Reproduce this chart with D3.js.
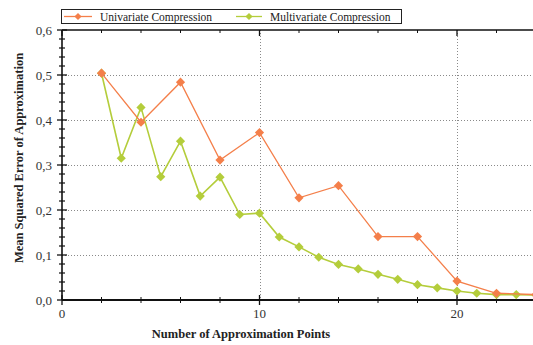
<!DOCTYPE html>
<html>
<head>
<meta charset="utf-8">
<script src="https://cdn.jsdelivr.net/npm/d3@7"></script>
<style>
  html, body { margin: 0; padding: 0; background: #fff; }
  svg { display: block; }
</style>
</head>
<body>
<svg id="chart" width="533" height="345"></svg>
<script>
// Approximation points (x) and mean squared error per method
const uniX = [2, 4, 6, 8, 10, 12, 14, 16, 18, 20, 22, 24];
const uniY = [0.504, 0.395, 0.484, 0.311, 0.372, 0.227, 0.254, 0.141, 0.141, 0.042, 0.015, 0.012];
const multiX = [2, 3, 4, 5, 6, 7, 8, 9, 10, 11, 12, 13, 14, 15, 16, 17, 18, 19, 20, 21, 22, 23, 24];
const multiY = [0.504, 0.315, 0.428, 0.274, 0.353, 0.231, 0.273, 0.190, 0.193, 0.140, 0.118, 0.095,
                0.079, 0.069, 0.057, 0.046, 0.034, 0.027, 0.020, 0.015, 0.012, 0.012, 0.011];
const xMajorTicks = [0, 10, 20];
const xMinorTicks = [2, 4, 6, 8, 12, 14, 16, 18, 22, 24];
const yMajorTicks = [0, 0.1, 0.2, 0.3, 0.4, 0.5, 0.6];
const seriesNames = ["Univariate Compression", "Multivariate Compression"];
const seriesColors = ["#f47f4a", "#b4cd3b"];

const FONT = "'Liberation Serif', 'Times New Roman', Times, serif";

const svg = d3.select("#chart");
const W = 533, H = 345;
const mLeft = 62, mRight = 536, mTop = 30, mBottom = 300;

const x = d3.scaleLinear().domain([0, 24]).range([mLeft, mRight]);
const y = d3.scaleLinear().domain([0, 0.6]).range([mBottom, mTop]);

svg.append("rect").attr("width", W).attr("height", H).attr("fill", "#fff");

const yMinor = d3.range(0, 0.6001, 0.02).filter(v => !yMajorTicks.some(m => Math.abs(m - v) < 1e-6));

// dotted grid at major ticks
const grid = svg.append("g").attr("stroke", "#8a8a8a").attr("stroke-width", 1)
  .attr("stroke-dasharray", "1,2");
grid.selectAll("line.h").data(yMajorTicks.filter(v => v > 0 && v < 0.6)).join("line")
  .attr("x1", mLeft).attr("x2", W)
  .attr("y1", d => Math.round(y(d)) + 0.5).attr("y2", d => Math.round(y(d)) + 0.5);
grid.selectAll("line.v").data(xMajorTicks.filter(v => v > 0)).join("line")
  .attr("y1", mTop).attr("y2", mBottom)
  .attr("x1", d => Math.round(x(d)) + 0.5).attr("x2", d => Math.round(x(d)) + 0.5);

// axes frame
const axes = svg.append("g").attr("stroke", "#111");
axes.append("line").attr("x1", mLeft).attr("x2", W).attr("y1", mBottom).attr("y2", mBottom).attr("stroke-width", 2);
axes.append("line").attr("x1", mLeft).attr("x2", W).attr("y1", mTop).attr("y2", mTop).attr("stroke-width", 1.6);
axes.append("line").attr("x1", mLeft).attr("x2", mLeft).attr("y1", mTop).attr("y2", mBottom).attr("stroke-width", 1.6);

// y ticks (cross the axis line)
axes.selectAll("line.ymaj").data(yMajorTicks).join("line")
  .attr("x1", mLeft - 5).attr("x2", mLeft + 5)
  .attr("y1", d => y(d)).attr("y2", d => y(d)).attr("stroke-width", 1.3);
axes.selectAll("line.ymin").data(yMinor).join("line")
  .attr("x1", mLeft - 3).attr("x2", mLeft + 3)
  .attr("y1", d => y(d)).attr("y2", d => y(d)).attr("stroke-width", 1.2);

// x ticks on bottom and top
axes.selectAll("line.xmaj").data(xMajorTicks).join("line")
  .attr("x1", d => x(d)).attr("x2", d => x(d))
  .attr("y1", mBottom - 5).attr("y2", mBottom + 5).attr("stroke-width", 1.3);
axes.selectAll("line.xmin").data(xMinorTicks).join("line")
  .attr("x1", d => x(d)).attr("x2", d => x(d))
  .attr("y1", mBottom - 3).attr("y2", mBottom + 3).attr("stroke-width", 1);
axes.selectAll("line.xtmaj").data(xMajorTicks).join("line")
  .attr("x1", d => x(d)).attr("x2", d => x(d))
  .attr("y1", mTop).attr("y2", mTop + 6).attr("stroke-width", 1.3);
axes.selectAll("line.xtmin").data(xMinorTicks).join("line")
  .attr("x1", d => x(d)).attr("x2", d => x(d))
  .attr("y1", mTop).attr("y2", mTop + 3).attr("stroke-width", 1);

// tick labels
const fmt = d => d3.format(".1f")(d).replace(".", ",");
svg.append("g").selectAll("text").data(yMajorTicks).join("text")
  .attr("x", mLeft - 10).attr("y", d => y(d) + 4.5)
  .attr("text-anchor", "end").attr("font-family", FONT).attr("font-size", 13)
  .attr("fill", "#333").text(fmt);
svg.append("g").selectAll("text").data(xMajorTicks).join("text")
  .attr("x", d => x(d)).attr("y", mBottom + 18)
  .attr("text-anchor", "middle").attr("font-family", FONT).attr("font-size", 13)
  .attr("fill", "#333").text(d => d);

// axis titles
svg.append("text").attr("x", 241).attr("y", 338).attr("text-anchor", "middle")
  .attr("font-family", FONT).attr("font-size", 12.5).attr("font-weight", "bold")
  .attr("fill", "#222").text("Number of Approximation Points");
svg.append("text").attr("transform", "translate(23,158) rotate(-90)").attr("text-anchor", "middle")
  .attr("font-family", FONT).attr("font-size", 12.5).attr("font-weight", "bold")
  .attr("fill", "#222").text("Mean Squared Error of Approximation");

// series
const diamond = (cx, cy, r) => `M${cx},${cy - r}L${cx + r},${cy}L${cx},${cy + r}L${cx - r},${cy}Z`;
const series = [
  { xs: uniX, ys: uniY, color: seriesColors[0], w: 1.3 },
  { xs: multiX, ys: multiY, color: seriesColors[1], w: 1.6 }
];
const plot = svg.append("g");
const line = d3.line().x(d => x(d[0])).y(d => y(d[1]));
// draw multivariate first so the univariate line sits on top at the tail
[series[1], series[0]].forEach(s => {
  const pts = s.xs.map((v, i) => [v, s.ys[i]]);
  plot.append("path").datum(pts).attr("d", line)
    .attr("fill", "none").attr("stroke", s.color).attr("stroke-width", s.w);
  plot.selectAll(null).data(pts).join("path")
    .attr("d", d => diamond(x(d[0]), y(d[1]), 4.6)).attr("fill", s.color);
});

// legend
const lg = svg.append("g");
lg.append("rect").attr("x", 61.5).attr("y", 9.5).attr("width", 340).attr("height", 14)
  .attr("fill", "#fff").attr("stroke", "#222").attr("stroke-width", 1);
const legendItems = [
  { x0: 64, x1: 92, name: seriesNames[0], color: seriesColors[0], tx: 100 },
  { x0: 236, x1: 262, name: seriesNames[1], color: seriesColors[1], tx: 270 }
];
legendItems.forEach(it => {
  lg.append("line").attr("x1", it.x0).attr("x2", it.x1).attr("y1", 16.5).attr("y2", 16.5)
    .attr("stroke", it.color).attr("stroke-width", 1.3);
  lg.append("path").attr("d", diamond((it.x0 + it.x1) / 2, 16.5, 3.6)).attr("fill", it.color);
  lg.append("text").attr("x", it.tx).attr("y", 20.5).attr("font-family", FONT)
    .attr("font-size", 11.5).attr("fill", "#222").text(it.name);
});
</script>
</body>
</html>
